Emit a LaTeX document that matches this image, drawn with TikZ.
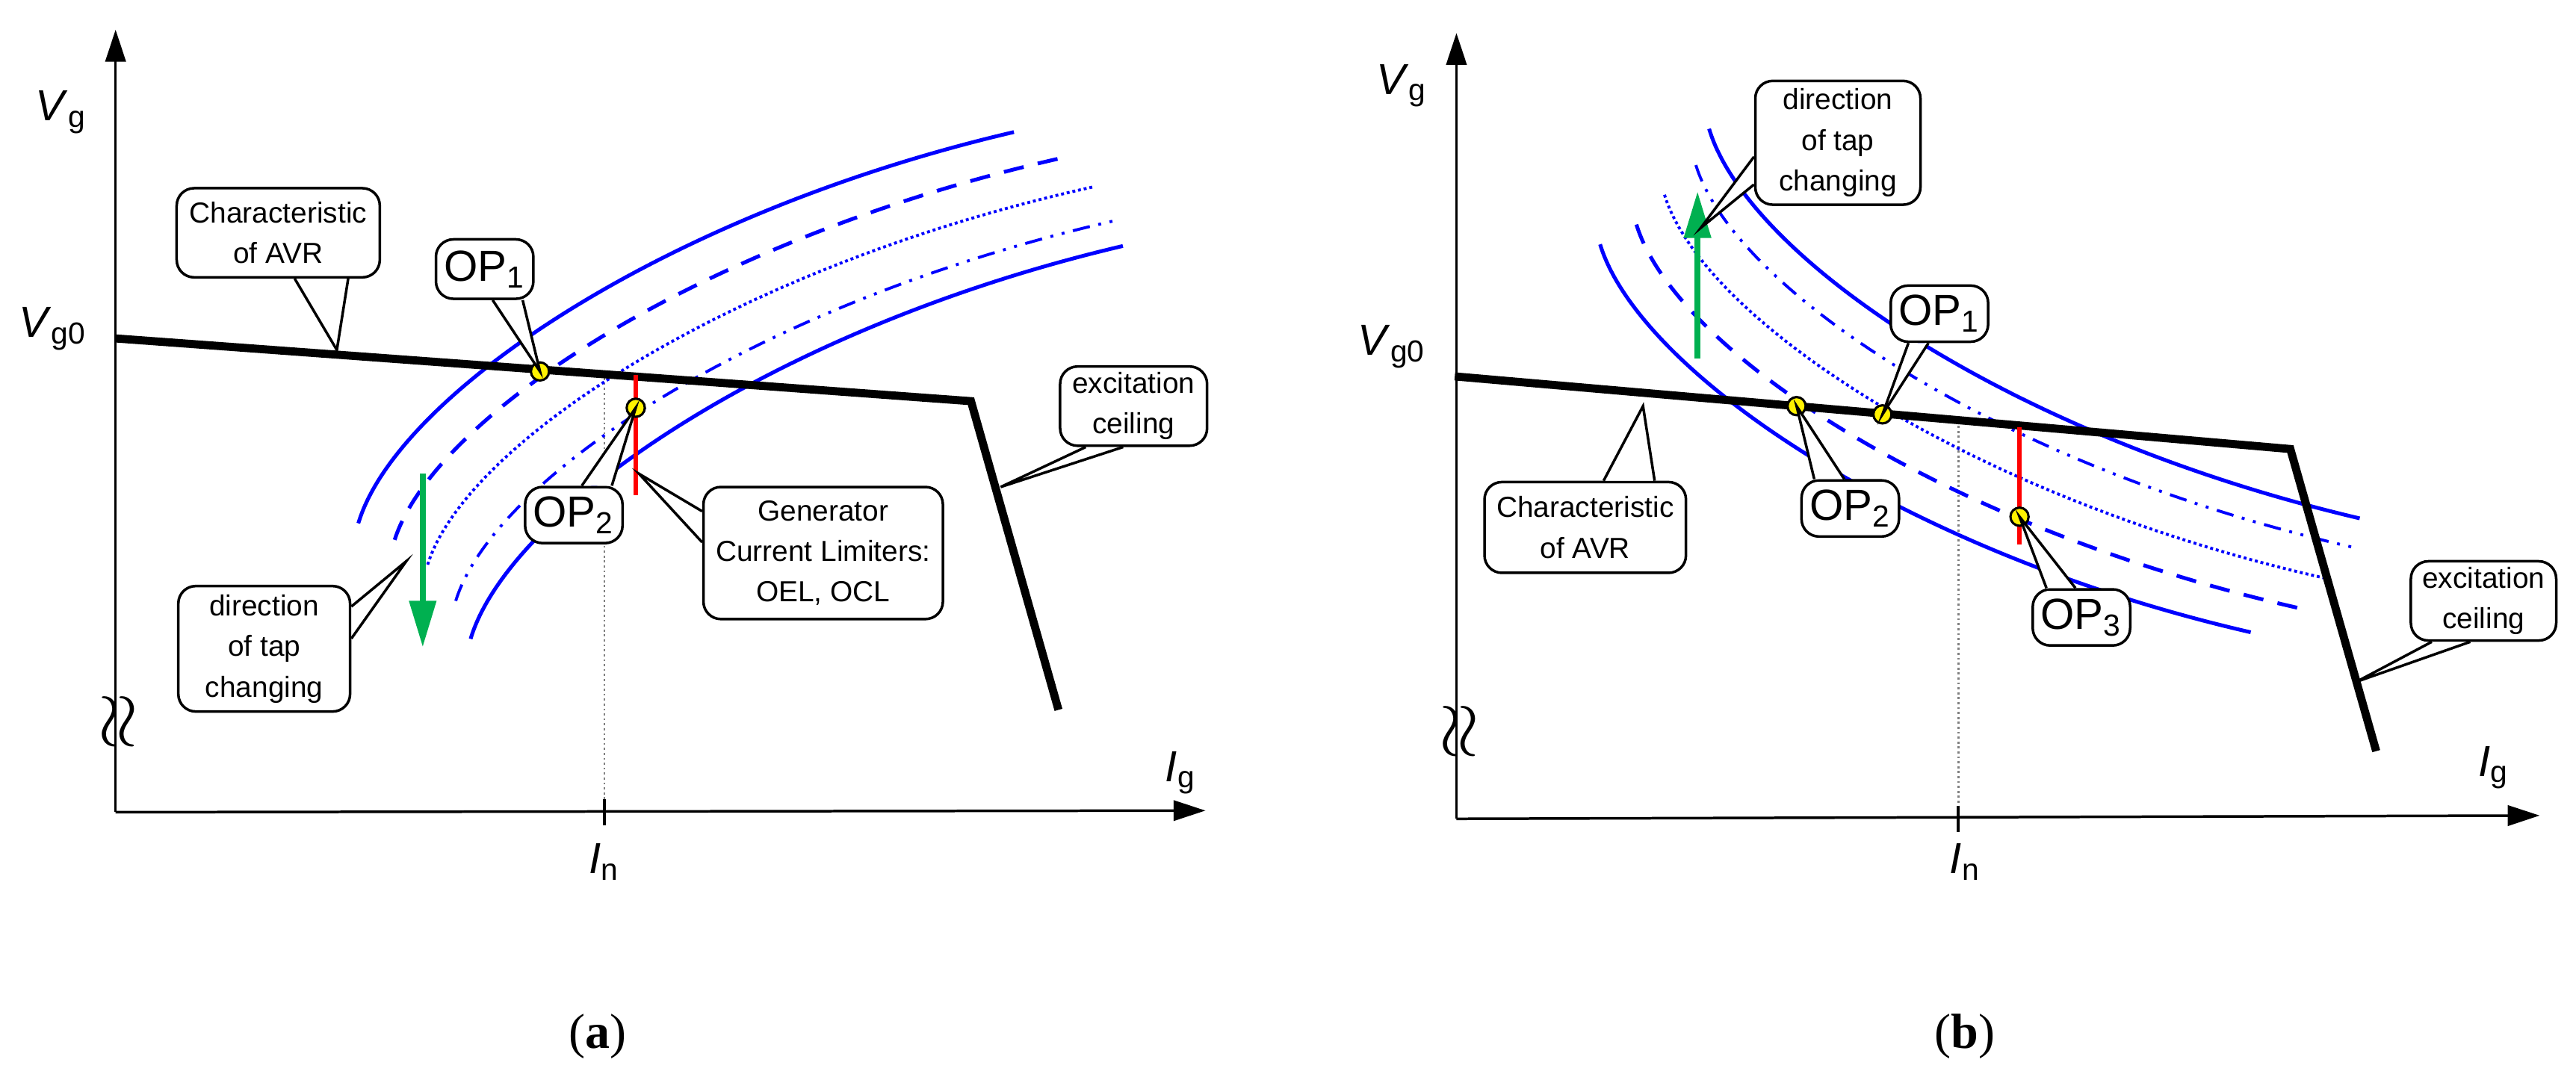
\documentclass[tikz,border=0pt]{standalone}
\usepackage{fontspec}
\setmainfont{Liberation Sans}
\newfontfamily\capfont{Liberation Serif}
\usetikzlibrary{arrows.meta, calc, positioning}
\definecolor{tapgreen}{RGB}{0,176,80}
\tikzset{
  axis/.style={line width=0.9pt, -{Triangle[width=7pt,length=11pt]}},
  avr/.style={line width=2.8pt},
  curve/.style={blue, line width=1.3pt},
  callbox/.style={draw, fill=white, rounded corners=6pt, line width=0.9pt, align=center, font=\fontsize{10}{14}\selectfont, inner sep=0pt},
  opbox/.style={callbox, font=\fontsize{15}{16}\selectfont},
  pointer/.style={draw, fill=white, line width=0.9pt},
  oppoint/.style={circle, draw, fill=yellow, line width=0.8pt, minimum size=2.2mm, inner sep=0pt},
  biglabel/.style={font=\fontsize{15}{16}\selectfont},
  breakmark/.style={rotate=90, inner sep=0pt},
}
\newcommand{\callout}[4]{% box, tip, base one, base two
  \path[pointer] (#3) -- (#2) -- (#4);
}
\begin{document}
\begin{tikzpicture}[x=0.2mm, y=-0.2mm]
  \useasboundingbox (0,0) rectangle (1560,656);
  % ---------------- panel (a)
  \coordinate (oA) at (70,492);
  \draw[axis] (oA) -- (70,18);
  \draw[axis] (oA) -- (730,491);
  \node[biglabel] at (37,68) {\textit{V}\textsubscript{g}};
  \node[biglabel] at (32,199) {\textit{V}\textsubscript{g0}};
  \node[biglabel] at (715,468) {\textit{I}\textsubscript{g}};
  \node[biglabel] at (366,522) {\textit{I}\textsubscript{n}};
  \node[breakmark] at (73,437) {\scalebox{2.6}{$\approx$}};
  \draw[gray, densely dotted, line width=0.7pt] (366,226) -- (366,492);
  \draw[line width=1pt] (366,484) -- (366,500);
  % tap curves
  \draw[curve] (217,317) .. controls (240,240) and (400,130) .. (614,80);
  \draw[curve, dash pattern=on 7pt off 5pt] (239,327) .. controls (263,252) and (426,144) .. (646,95);
  \draw[curve, line width=1pt, densely dotted] (259,342) .. controls (282,268) and (445,161) .. (663,113);
  \draw[curve, line width=1pt, dash pattern=on 6pt off 3pt on 1pt off 3pt on 1pt off 3pt] (276,364) .. controls (299,289) and (461,182) .. (678,133);
  \draw[curve] (285,387) .. controls (308,310) and (467,199) .. (680,149);
  % AVR characteristic
  \draw[avr] (70,205) -- (588,243) -- (641,430);
  \draw[red, line width=1.6pt] (385,227) -- (385,300);
  \draw[tapgreen, line width=2pt, -{Triangle[width=9pt,length=16pt]}] (256,287) -- (256,392);
  \node[oppoint] (op1A) at (327,225) {};
  \node[oppoint] (op2A) at (385,247) {};
  \coordinate (avrTipA) at (204,212);
  \coordinate (genTipA) at (387,287);
  \coordinate (excTipA) at (606,295);
  \coordinate (dirTipA) at (246,340);
  % callouts
  \node[callbox, minimum width=24.6mm, minimum height=10.8mm] (avrA) at (168.5,141) {Characteristic\\of AVR};
  \callout{avrA}{avrTipA}{$(avrA.south west)!0.58!(avrA.south east)$}{$(avrA.south west)!0.84!(avrA.south east)$}
  \node[opbox, minimum width=11.8mm, minimum height=7.2mm] (lab1A) at (293.5,163) {OP\textsubscript{1}};
  \callout{lab1A}{op1A.center}{$(lab1A.south west)!0.58!(lab1A.south east)$}{$(lab1A.south west)!0.88!(lab1A.south east)$}
  \node[opbox, minimum width=11.8mm, minimum height=6.8mm] (lab2A) at (347.5,312) {OP\textsubscript{2}};
  \callout{lab2A}{op2A.center}{$(lab2A.north west)!0.58!(lab2A.north east)$}{$(lab2A.north west)!0.88!(lab2A.north east)$}
  \node[callbox, minimum width=29mm, minimum height=16mm] (genA) at (498.5,335) {Generator\\Current Limiters:\\OEL, OCL};
  \callout{genA}{genTipA}{$(genA.north west)!0.19!(genA.south west)$}{$(genA.north west)!0.42!(genA.south west)$}
  \node[callbox, minimum width=17.8mm, minimum height=9.6mm] (excA) at (686.5,246) {excitation\\ceiling};
  \callout{excA}{excTipA}{$(excA.south west)!0.18!(excA.south east)$}{$(excA.south west)!0.43!(excA.south east)$}
  \node[callbox, minimum width=20.8mm, minimum height=15.2mm] (dirA) at (160,393) {direction\\of tap\\changing};
  \callout{dirA}{dirTipA}{$(dirA.north east)!0.17!(dirA.south east)$}{$(dirA.north east)!0.42!(dirA.south east)$}
  \node[font=\capfont\fontsize{17}{18}\selectfont] at (362,628) {(\textbf{a})};
  % ---------------- panel (b)
  \coordinate (oB) at (882,496);
  \draw[axis] (oB) -- (882,20);
  \draw[axis] (oB) -- (1538,494);
  \node[biglabel] at (849,52) {\textit{V}\textsubscript{g}};
  \node[biglabel] at (843,210) {\textit{V}\textsubscript{g0}};
  \node[biglabel] at (1510,465) {\textit{I}\textsubscript{g}};
  \node[biglabel] at (1190,522) {\textit{I}\textsubscript{n}};
  \node[breakmark] at (885,443) {\scalebox{2.6}{$\approx$}};
  \draw[gray, densely dotted, line width=0.7pt] (1186,258) -- (1186,496);
  \draw[line width=1pt] (1186,488) -- (1186,504);
  % tap curves
  \draw[curve] (969,148) .. controls (992,224) and (1150,334) .. (1363,383);
  \draw[curve, dash pattern=on 7pt off 5pt] (991,136) .. controls (1014,212) and (1177,320) .. (1395,369);
  \draw[curve, line width=1pt, densely dotted] (1008,118) .. controls (1031,193) and (1192,301) .. (1407,350);
  \draw[curve, line width=1pt, dash pattern=on 6pt off 3pt on 1pt off 3pt on 1pt off 3pt] (1027,100) .. controls (1050,175) and (1211,283) .. (1427,332);
  \draw[curve] (1035,78) .. controls (1058,155) and (1216,264) .. (1429,314);
  % AVR characteristic
  \draw[avr] (881,228) -- (1387,272) -- (1439,455);
  \draw[red, line width=1.6pt] (1223,259) -- (1223,330);
  \draw[tapgreen, line width=2pt, -{Triangle[width=9pt,length=16pt]}] (1028,217) -- (1028,116);
  \node[oppoint] (op2B) at (1088,246) {};
  \node[oppoint] (op1B) at (1140,251) {};
  \node[oppoint] (op3B) at (1223,313) {};
  \coordinate (dirTipB) at (1030,138);
  \coordinate (avrTipB) at (995,246);
  \coordinate (excTipB) at (1427,413);
  % callouts
  \node[callbox, minimum width=20mm, minimum height=15mm] (dirB) at (1113,86.5) {direction\\of tap\\changing};
  \callout{dirB}{dirTipB}{$(dirB.north west)!0.61!(dirB.south west)$}{$(dirB.north west)!0.83!(dirB.south west)$}
  \node[opbox, minimum width=11.8mm, minimum height=6.8mm] (lab1B) at (1174.5,190) {OP\textsubscript{1}};
  \callout{lab1B}{op1B.center}{$(lab1B.south west)!0.19!(lab1B.south east)$}{$(lab1B.south west)!0.39!(lab1B.south east)$}
  \node[opbox, minimum width=11.8mm, minimum height=6.8mm] (lab2B) at (1120.5,308) {OP\textsubscript{2}};
  \callout{lab2B}{op2B.center}{$(lab2B.north west)!0.14!(lab2B.north east)$}{$(lab2B.north west)!0.44!(lab2B.north east)$}
  \node[opbox, minimum width=11.8mm, minimum height=6.8mm] (lab3B) at (1260.5,374) {OP\textsubscript{3}};
  \callout{lab3B}{op3B.center}{$(lab3B.north west)!0.15!(lab3B.north east)$}{$(lab3B.north west)!0.44!(lab3B.north east)$}
  \node[callbox, minimum width=24.4mm, minimum height=11mm] (avrB) at (960,319.5) {Characteristic\\of AVR};
  \callout{avrB}{avrTipB}{$(avrB.north west)!0.59!(avrB.north east)$}{$(avrB.north west)!0.84!(avrB.north east)$}
  \node[callbox, minimum width=17.6mm, minimum height=9.6mm] (excB) at (1504,364) {excitation\\ceiling};
  \callout{excB}{excTipB}{$(excB.south west)!0.15!(excB.south east)$}{$(excB.south west)!0.41!(excB.south east)$}
  \node[font=\capfont\fontsize{17}{18}\selectfont] at (1190,628) {(\textbf{b})};
\end{tikzpicture}
\end{document}
